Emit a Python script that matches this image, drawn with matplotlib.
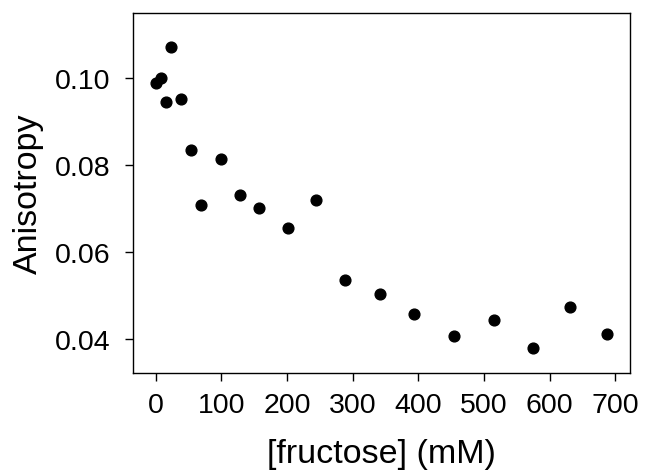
import numpy as np
import matplotlib.pyplot as plt

plt.rcParams['font.family'] = ['Liberation Sans', 'DejaVu Sans']

# [fructose] (mM) and measured anisotropy
fructose = [0, 8, 16, 23, 38, 54, 69, 99, 129, 158, 202, 244,
            289, 342, 393, 455, 515, 574, 631, 687]
anisotropy = [0.0988, 0.0999, 0.0945, 0.1071, 0.0951, 0.0834, 0.0708, 0.0813,
              0.0731, 0.0701, 0.0655, 0.0719, 0.0535, 0.0502, 0.0456, 0.0405,
              0.0443, 0.0378, 0.0472, 0.0411]

x_ticks = [0, 100, 200, 300, 400, 500, 600, 700]
y_ticks = [0.04, 0.06, 0.08, 0.10]

fig = plt.figure(figsize=(6.58, 4.77), dpi=100)
ax = fig.add_axes([0.202, 0.216, 0.755, 0.755])

ax.scatter(fructose, anisotropy, s=60, color='black', zorder=3)

ax.set_xlim(-34.5, 722)
ax.set_ylim(0.0321, 0.115)
ax.set_xticks(x_ticks)
ax.set_yticks(y_ticks)
ax.set_yticklabels(['%.2f' % v for v in y_ticks])

ax.tick_params(direction='out', length=6, width=1, labelsize=20.5)
ax.tick_params(axis='x', pad=8)
ax.tick_params(axis='y', pad=10)
for sp in ax.spines.values():
    sp.set_linewidth(1)

ax.set_xlabel('[fructose] (mM)', fontsize=24.5, labelpad=14)
ax.set_ylabel('Anisotropy', fontsize=24.5, labelpad=8)

fig.savefig('out.png', dpi=100)
